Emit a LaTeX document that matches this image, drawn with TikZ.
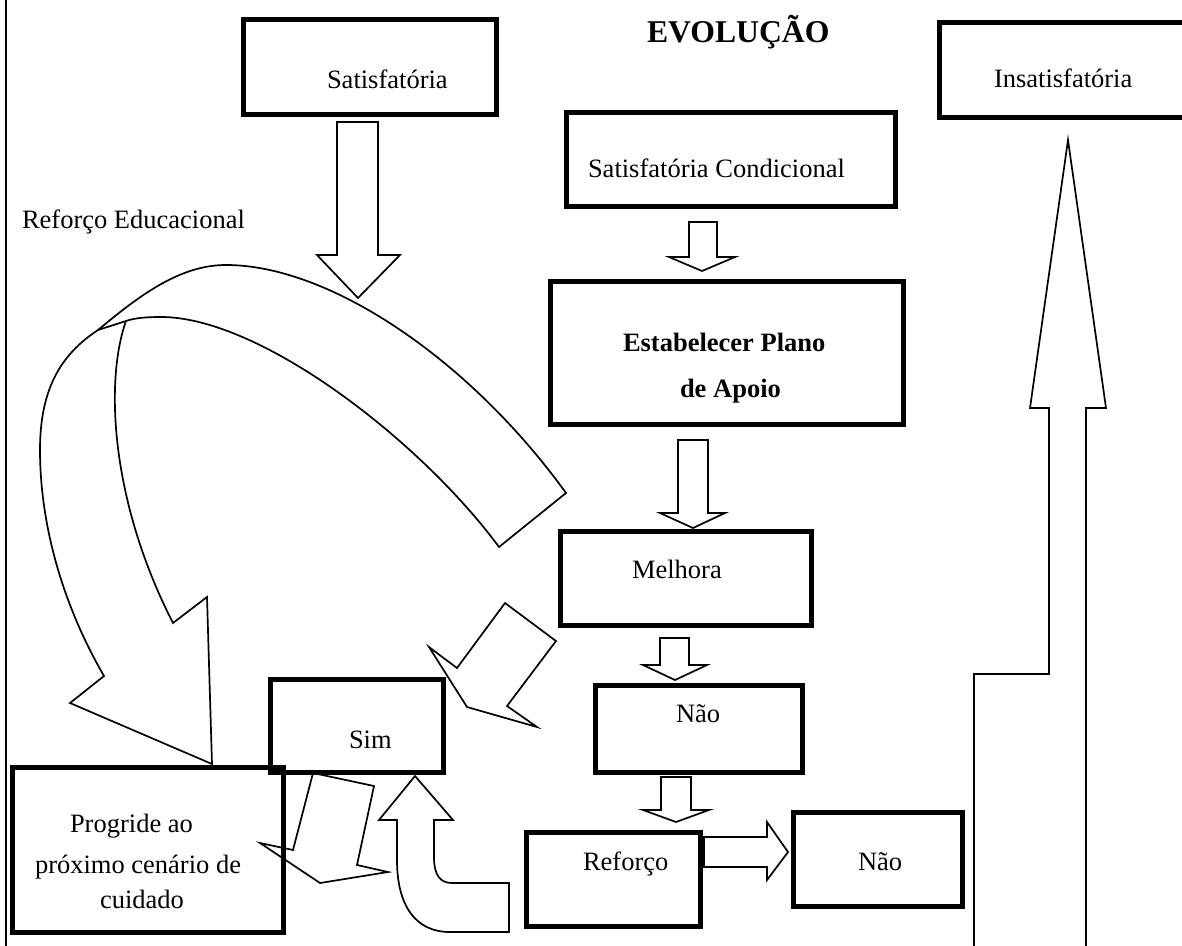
\documentclass[tikz,border=0pt]{standalone}
\usepackage{fontspec}
\setmainfont{Liberation Serif}
\begin{document}
\begin{tikzpicture}[x=1pt,y=-1pt]
\tikzset{
  box/.style={draw, line width=5pt, inner sep=0pt, outer sep=0pt},
  blk/.style={draw, line width=1.7pt, line join=miter},
  lbl/.style={anchor=base west, inner sep=0pt, outer sep=0pt, font=\fontsize{26.5}{30}\selectfont},
  lblb/.style={lbl, font=\fontsize{26.5}{30}\selectfont\bfseries},
  ttl/.style={lbl, font=\fontsize{31.7}{36}\selectfont\bfseries},
}
\newcommand\blkdown[8]{%
  \draw[blk] (#1,#3) -- (#2,#3) -- (#2,#4) -- (#6,#4) -- (#7,#8) -- (#5,#4) -- (#1,#4) -- cycle;}
\useasboundingbox (0,0) rectangle (1182,945);
\clip (0,0) rectangle (1182,945);

% left border
\draw[line width=2pt] (6,-5) -- (6,950);

% boxes
\node[box, minimum width=252.5, minimum height=95] (sat) at (369.75,67) {};
\node[box, minimum width=329, minimum height=94] (cond) at (731,159.5) {};
\node[box, minimum width=353, minimum height=143] (estab) at (727,353) {};
\node[box, minimum width=251, minimum height=94] (melh) at (686,578.5) {};
\node[box, minimum width=207, minimum height=87] (naoA) at (699,729) {};
\node[box, minimum width=173, minimum height=93] (sim) at (357,726) {};
\node[box, minimum width=174, minimum height=94] (refo) at (613.5,879.5) {};
\node[box, minimum width=169, minimum height=94] (naoB) at (878,859.5) {};
\node[box, minimum width=271, minimum height=165] (prog) at (148,850) {};
\node[box, minimum width=300, minimum height=95] (insat) at (1089.5,69.5) {};

% texts
\node[ttl] (tEvo) at (647,42) {EVOLUÇÃO};
\node[lbl] (tRefEd) at (22,228) {Reforço Educacional};
\node[lbl] (tSat) at (327,88) {Satisfatória};
\node[lbl] (tCond) at (588,177) {Satisfatória Condicional};
\node[lblb] (tEst1) at (623,351) {Estabelecer Plano};
\node[lblb] (tEst2) at (680,397) {de Apoio};
\node[lbl] (tMel) at (632,578) {Melhora};
\node[lbl] (tNaoA) at (676,722) {Não};
\node[lbl] (tSim) at (349,748) {Sim};
\node[lbl] (tRef) at (583,870) {Reforço};
\node[lbl] (tNaoB) at (858,870) {Não};
\node[lbl] (tProg1) at (70,832) {Progride ao};
\node[lbl] (tProg2) at (35,873) {próximo cenário de};
\node[lbl] (tProg3) at (100,908) {cuidado};
\node[lbl] (tIns) at (994,87) {Insatisfatória};

% straight block arrows
\blkdown{337}{378}{122}{255}{317}{400}{358}{298}
\blkdown{689}{717}{222}{257}{669}{735}{702}{271}
\blkdown{678}{708}{440}{513}{660}{725}{693}{528}
\blkdown{660}{689}{638}{665}{643}{707}{675}{680}
\blkdown{661}{691}{777}{810}{643}{709}{676}{822}
\draw[blk] (704,837) -- (767,837) -- (767,822) -- (788,852) -- (767,880) -- (767,867) -- (704,867) -- cycle;

% Melhora -> Sim (diagonal)
\draw[blk] (505,603) -- (556,641) -- (507,706) -- (537,727) -- (467,707) -- (429,647) -- (457,668) -- cycle;
% Sim -> Progride
\draw[blk] (313,773) -- (374,786) -- (357,865) -- (388,872) -- (320,883) -- (260,843) -- (293,850) -- cycle;
% Reforco -> Sim (bent up arrow)
\draw[blk] (397,820) -- (379,820) -- (415,776) -- (453,820) -- (434,820) -- (434,857)
  .. controls (434,875) and (440,883) .. (452,883) -- (509,883) -- (509,932) -- (450,932)
  .. controls (415,932) and (397,905) .. (397,860) -- cycle;

% big curved arrow (Reforco Educacional)
\draw[blk] (212,764) -- (70,703) -- (104,676)
  .. controls (60,600) and (40,520) .. (40,450)
  .. controls (40,390) and (60,355) .. (98,330)
  .. controls (140,295) and (180,265) .. (226,265)
  .. controls (330,265) and (470,360) .. (566,493)
  -- (499,547)
  .. controls (420,440) and (260,317) .. (161,317)
  .. controls (145,317) and (135,318) .. (126,321)
  .. controls (105,380) and (110,500) .. (173,623)
  -- (207,597) -- cycle;
\draw[blk] (126,321) -- (98,330);

% big up arrow (Insatisfatoria)
\draw[blk] (974,950) -- (974,674) -- (1049,674) -- (1049,408) -- (1030,408) -- (1068,140) -- (1106,408) -- (1086,408) -- (1086,950);
\end{tikzpicture}
\end{document}
